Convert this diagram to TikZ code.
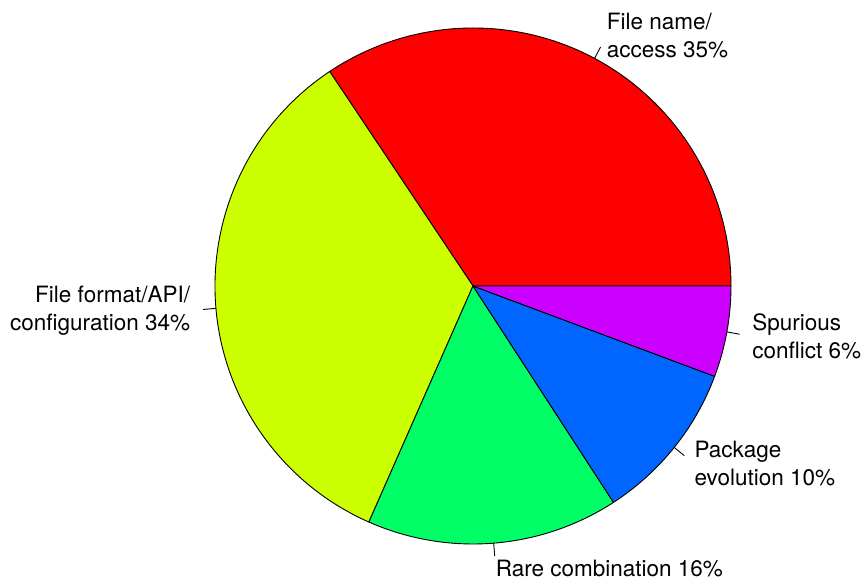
\documentclass[tikz,border=0pt]{standalone}
\usepackage{fontspec}
\setmainfont{TeX Gyre Heros}
\usepackage{xcolor}
\usepackage{tikz}

\definecolor{slicered}{HTML}{FF0000}
\definecolor{sliceyellow}{HTML}{CCFF00}
\definecolor{slicegreen}{HTML}{00FF66}
\definecolor{sliceblue}{HTML}{0066FF}
\definecolor{slicepurple}{HTML}{CC00FF}

\tikzset{
  slice/.style={draw=black, line width=0.9pt, line join=round},
  tick/.style={draw=black, line width=0.9pt},
  lblright/.style={anchor=west, align=left, inner sep=0pt},
  lblleft/.style={anchor=east, align=right, inner sep=0pt}
}

\begin{document}
\begin{tikzpicture}[font=\fontsize{22.5}{27.5}\selectfont]
    \useasboundingbox (-473pt,-299pt) rectangle (392pt,286pt);
    \coordinate (c) at (0,0);

    % File name / access
    \filldraw[slice, fill=slicered] (c) -- (0:258pt) arc[start angle=0, end angle=123.75, radius=258pt] -- cycle;
    % File format / API / configuration
    \filldraw[slice, fill=sliceyellow] (c) -- (123.75:258pt) arc[start angle=123.75, end angle=246.2, radius=258pt] -- cycle;
    % Rare combination
    \filldraw[slice, fill=slicegreen] (c) -- (246.2:258pt) arc[start angle=246.2, end angle=303, radius=258pt] -- cycle;
    % Package evolution
    \filldraw[slice, fill=sliceblue] (c) -- (303:258pt) arc[start angle=303, end angle=339.5, radius=258pt] -- cycle;
    % Spurious conflict
    \filldraw[slice, fill=slicepurple] (c) -- (339.5:258pt) arc[start angle=339.5, end angle=360, radius=258pt] -- cycle;

    % Ticks
    \coordinate (redin) at (61.9:258pt);     \coordinate (redout) at (61.9:270.9pt);
    \coordinate (yelin) at (184.97:258pt);   \coordinate (yelout) at (184.97:270.9pt);
    \coordinate (grnin) at (274.6:258pt);    \coordinate (grnout) at (274.6:270.9pt);
    \coordinate (bluin) at (321.25:258pt);   \coordinate (bluout) at (321.25:270.9pt);
    \coordinate (purin) at (349.75:258pt);   \coordinate (purout) at (349.75:270.9pt);
    \draw[tick] (redin) -- (redout);
    \draw[tick] (yelin) -- (yelout);
    \draw[tick] (grnin) -- (grnout);
    \draw[tick] (bluin) -- (bluout);
    \draw[tick] (purin) -- (purout);

    % Labels
    \node[lblright] (redlbl) at (61.9:283.8pt) {File name/\\access 35\%};
    \node[lblleft] (yellbl) at (184.97:283.8pt) {File format/API/\\configuration 34\%};
    \node[lblright] (grnlbl) at (274.6:283.8pt) {Rare combination 16\%};
    \node[lblright] (blulbl) at (321.25:283.8pt) {Package\\evolution 10\%};
    \node[lblright] (purlbl) at (349.75:283.8pt) {Spurious\\conflict 6\%};
\end{tikzpicture}
\end{document}
